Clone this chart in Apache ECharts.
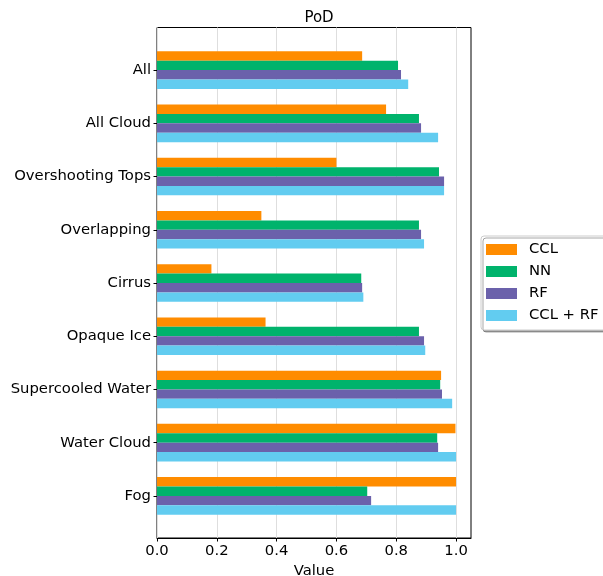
<!DOCTYPE html>
<html>
<head>
<meta charset="utf-8">
<script src="https://cdn.jsdelivr.net/npm/echarts@6/dist/echarts.min.js"></script>
<style>
  html, body { margin: 0; padding: 0; background: #fff; }
  #chart { width: 603px; height: 576px; }
</style>
</head>
<body>
<div id="chart"></div>
<script>
// categories, top to bottom
const categories = ["All", "All Cloud", "Overshooting Tops", "Overlapping", "Cirrus",
  "Opaque Ice", "Supercooled Water", "Water Cloud", "Fog"];

// values
const cclValues   = [0.686, 0.766, 0.600, 0.349, 0.182, 0.363, 0.950, 0.998, 1.000];
const nnValues    = [0.806, 0.876, 0.943, 0.876, 0.683, 0.876, 0.947, 0.937, 0.703];
const rfValues    = [0.816, 0.883, 0.960, 0.883, 0.686, 0.893, 0.953, 0.940, 0.716];
const comboValues = [0.840, 0.940, 0.960, 0.893, 0.690, 0.897, 0.987, 1.000, 1.000];

const xTicks = [0, 0.2, 0.4, 0.6, 0.8, 1.0];

const font = "DejaVu Sans";
const fs = 14.8;

const chart = echarts.init(document.getElementById("chart"));

// grid 0 holds the bars, grid 1 is the frame + x axis
const option = {
  animation: false,
  color: ["#ff8c00", "#00b36c", "#6b61ab", "#62ccf0"],
  title: {
    text: "PoD",
    left: 314,
    textAlign: "center",
    top: 6,
    textStyle: { fontFamily: font, fontSize: 15, fontWeight: "normal", color: "#000" }
  },
  legend: {
    orient: "vertical",
    left: 481,
    top: 236,
    padding: [6, 12, 7, 5],
    itemWidth: 31,
    itemHeight: 11,
    itemGap: 7,
    icon: "rect",
    borderColor: "#cccccc",
    borderWidth: 1,
    borderRadius: 3,
    backgroundColor: "#fff",
    shadowColor: "rgba(0,0,0,0.35)",
    shadowOffsetX: 2,
    shadowOffsetY: 2,
    shadowBlur: 0,
    textStyle: { fontFamily: font, fontSize: fs, color: "#000", padding: [0, 0, 0, 7] },
    itemStyle: { borderWidth: 0 },
    data: ["CCL", "NN", "RF", "CCL + RF"]
  },
  grid: [
    { left: 157, right: 132, top: 43.5, bottom: 53.5, outerBoundsMode: "none" },
    { left: 157, right: 132, top: 27.5, bottom: 38, outerBoundsMode: "none", show: true,
      borderColor: "#000", borderWidth: 1, backgroundColor: "transparent" }
  ],
  xAxis: [
    { gridIndex: 0, type: "value", min: 0, max: 1.05, show: false },
    {
      gridIndex: 1, type: "value", min: 0, max: 1.05, interval: 0.2,
      name: "Value", nameLocation: "middle", nameGap: 25,
      nameTextStyle: { fontFamily: font, fontSize: fs, color: "#000" },
      axisLine: { show: true, lineStyle: { color: "#000", width: 1 } },
      axisTick: { show: true, length: 3.5, customValues: xTicks, lineStyle: { color: "#000" } },
      axisLabel: {
        customValues: xTicks, margin: 6,
        fontFamily: font, fontSize: fs, color: "#000",
        formatter: v => v.toFixed(1)
      },
      splitLine: { show: true, lineStyle: { color: "#dedede", width: 1 } }
    }
  ],
  yAxis: [
    {
      gridIndex: 0, type: "category", data: categories, inverse: true,
      axisLine: { show: false },
      axisTick: { show: true, alignWithLabel: true, length: 3.5, lineStyle: { color: "#000" } },
      axisLabel: { margin: 6, fontFamily: font, fontSize: fs, color: "#000" }
    },
    { gridIndex: 1, type: "value", show: false }
  ],
  series: [
    { name: "CCL", data: cclValues },
    { name: "NN", data: nnValues },
    { name: "RF", data: rfValues },
    { name: "CCL + RF", data: comboValues }
  ].map(s => ({
    ...s,
    type: "bar",
    xAxisIndex: 0,
    yAxisIndex: 0,
    barWidth: 9.4,
    barGap: "0%"
  }))
};

chart.setOption(option);
</script>
</body>
</html>
